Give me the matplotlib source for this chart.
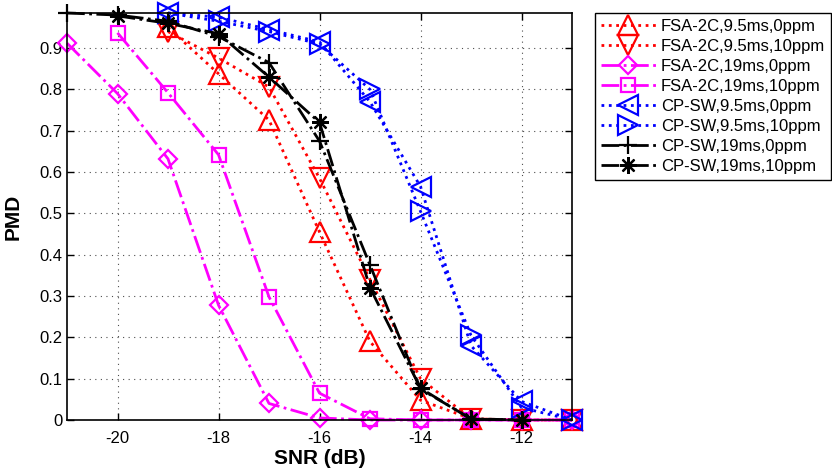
import matplotlib
matplotlib.use("Agg")
from matplotlib import pyplot as plt
from matplotlib.ticker import FuncFormatter

plt.rcParams['font.family'] = ['Liberation Sans', 'DejaVu Sans']
plt.rcParams['axes.unicode_minus'] = False

# SNR grid (dB)
snr_a = [-19, -18, -17, -16, -15, -14, -13, -12, -11]
snr_b = [-21, -20, -19, -18, -17, -16, -15, -14, -13, -12, -11]
snr_c = [-20, -19, -18, -17, -16, -15, -14, -13, -12, -11]
snr_d = [-21, -20, -19, -18, -17, -16, -15, -14, -13, -12]
snr_e = [-20, -19, -18, -17, -16, -15, -14, -13, -12]

# PMD values
fsa_95_0 = [0.95, 0.838, 0.726, 0.455, 0.19, 0.048, 0.003, 0, 0]
fsa_95_10 = [0.94, 0.876, 0.806, 0.585, 0.34, 0.10, 0.003, 0, 0]
fsa_19_0 = [0.912, 0.79, 0.632, 0.278, 0.04, 0.005, 0, 0, 0, 0, 0]
fsa_19_10 = [0.937, 0.792, 0.642, 0.298, 0.065, 0.003, 0, 0, 0, 0]
cp_95_0 = [0.985, 0.975, 0.945, 0.915, 0.77, 0.565, 0.18, 0.045, 0]
cp_95_10 = [0.985, 0.965, 0.94, 0.91, 0.80, 0.505, 0.205, 0.03, 0]
cp_19_0 = [0.985, 0.98, 0.965, 0.928, 0.865, 0.675, 0.375, 0.075, 0.003, 0]
cp_19_10 = [0.978, 0.96, 0.935, 0.83, 0.72, 0.32, 0.077, 0.002, 0]

labels = ['FSA-2C,9.5ms,0ppm', 'FSA-2C,9.5ms,10ppm', 'FSA-2C,19ms,0ppm',
          'FSA-2C,19ms,10ppm', 'CP-SW,9.5ms,0ppm', 'CP-SW,9.5ms,10ppm',
          'CP-SW,19ms,0ppm', 'CP-SW,19ms,10ppm']

fig = plt.figure(figsize=(8.32, 4.72), dpi=100)
ax = fig.add_axes([67/832, 1-420/472, 505/832, 407/472])

kw = dict(lw=2, mew=1.6, fillstyle='none', clip_on=False)
ax.plot(snr_a, fsa_95_0, ':', color='red', marker='^', ms=14, label=labels[0], **kw)
ax.plot(snr_a, fsa_95_10, ':', color='red', marker='v', ms=14, label=labels[1], **kw)
ax.plot(snr_b, fsa_19_0, '-.', color='magenta', marker='D', ms=9, label=labels[2], **kw)
ax.plot(snr_c, fsa_19_10, '-.', color='magenta', marker='s', ms=10, label=labels[3], **kw)
ax.plot(snr_a, cp_95_0, ':', color='blue', marker='<', ms=14, label=labels[4], **kw)
ax.plot(snr_a, cp_95_10, ':', color='blue', marker='>', ms=14, label=labels[5], **kw)
ax.plot(snr_d, cp_19_0, '-.', color='black', marker='+', ms=13, label=labels[6], **kw)
ax.plot(snr_e, cp_19_10, '-.', color='black', marker=(8, 2, 0), ms=12, label=labels[7], **kw)

ax.set_xlim(-21, -11)
ax.set_ylim(0, 0.985)
ax.set_xticks([-20, -18, -16, -14, -12])
ax.set_yticks([0, 0.1, 0.2, 0.3, 0.4, 0.5, 0.6, 0.7, 0.8, 0.9])
ax.yaxis.set_major_formatter(FuncFormatter(lambda v, p: '0' if v == 0 else f'{v:.1f}'))
ax.tick_params(direction='in', top=True, right=True, length=5, width=1, labelsize=12)
ax.tick_params(axis='x', pad=8)
ax.grid(True, linestyle=(0, (1, 4)), color='0.3', lw=0.8)
for s in ax.spines.values():
    s.set_linewidth(1.2)

ax.set_xlabel('SNR (dB)', fontsize=15, fontweight='bold', labelpad=2)
ax.set_ylabel('PMD', fontsize=15, fontweight='bold', labelpad=12)

leg = fig.legend(loc='upper left', bbox_to_anchor=(595/832, 1-13/472), fontsize=12,
                 frameon=True, fancybox=False, edgecolor='black', framealpha=1,
                 handlelength=3.3, handletextpad=0.3, labelspacing=0.3,
                 borderpad=0.35, borderaxespad=0)
leg.get_frame().set_linewidth(1.0)

fig.savefig('out.png', dpi=100)
